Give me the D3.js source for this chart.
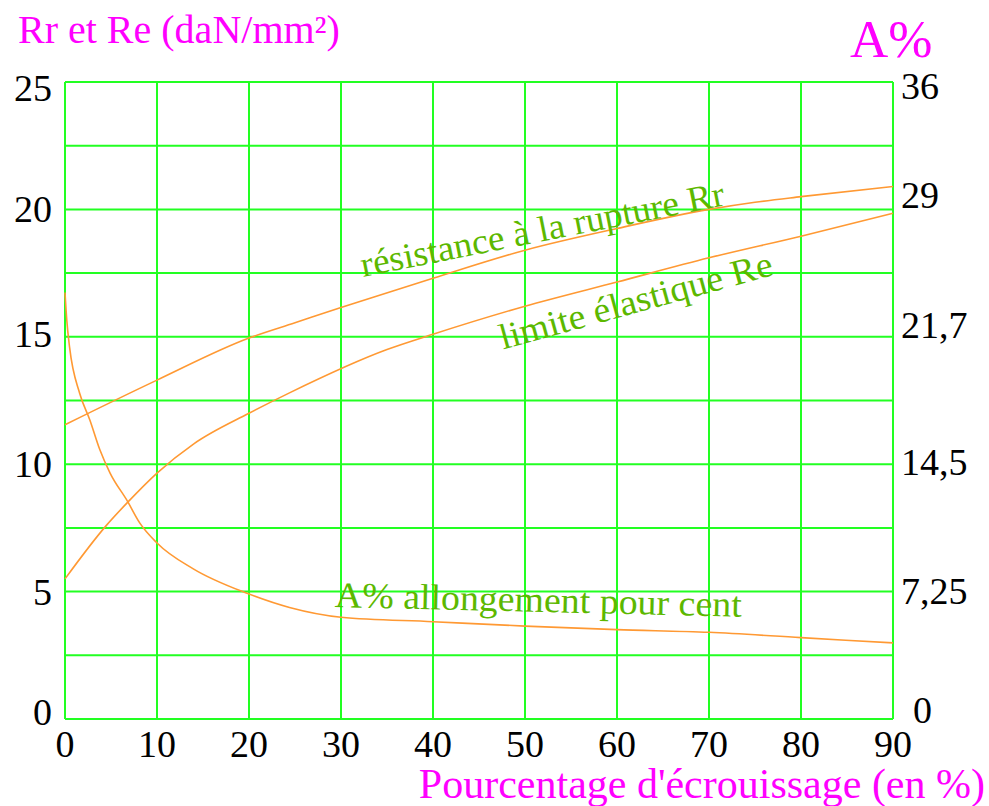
<!DOCTYPE html>
<head>
    <meta charset="utf-8">
    <style>
        body { margin: 0; background: #fff; }
        svg text { font-family: "Liberation Serif", "Times New Roman", serif; }
        line.grid { stroke: #22ff22; stroke-width: 2px; }
        path.curve { fill: none; stroke: #ff9933; stroke-width: 1.6px; }
        text.tick { font-size: 38px; fill: #000; }
        text.title { fill: #ff00ff; }
        text.note { fill: #5cb800; font-size: 36px; }
    </style>
</head>
<body>
    <script src="https://d3js.org/d3.v7.min.js"></script>
    <script>
        // écrouissage (%) -> valeurs
        var rr_x = [0, 10, 20, 25, 30, 40, 50, 60, 70, 75, 80, 90];
        var rr_y = [11.55, 13.3, 14.95, 15.55, 16.15, 17.3, 18.4, 19.25, 20.0, 20.28, 20.5, 20.9];

        var re_x = [0, 4.5, 6.8, 10, 14, 20, 24.4, 35, 40, 50, 60, 70, 80, 90];
        var re_y = [5.5, 7.6, 8.5, 9.65, 10.8, 12.0, 12.8, 14.5, 15.1, 16.2, 17.15, 18.1, 18.95, 19.85];

        // A% en unités de l'axe de droite (0 - 36)
        var a_x = [0, 0.2, 0.5, 1.6, 2.7, 3.8, 4.9, 6.8, 8.1, 10, 13.9, 19.8, 24.4, 30, 40, 50, 60, 70, 80, 90];
        var a_y = [24.1, 22.5, 21.0, 18.4, 16.9, 15.2, 13.9, 12.3, 11.1, 9.95, 8.5, 7.1, 6.3, 5.75, 5.5, 5.25, 5.05, 4.9, 4.6, 4.3];

        var x_ticks = [0, 10, 20, 30, 40, 50, 60, 70, 80, 90];
        var left_ticks = [0, 5, 10, 15, 20, 25];
        var right_ticks = [0, 7.25, 14.5, 21.7, 29, 36];
        var right_labels = ['0', '7,25', '14,5', '21,7', '29', '36'];

        var dim = {'w': 989, 'h': 806};
        var svg = d3.select('body')
                    .append('svg')
                    .attr('width', dim.w)
                    .attr('height', dim.h);

        var x_scale = d3.scaleLinear().domain([0, 90]).range([65, 893]);
        var y_scale = d3.scaleLinear().domain([0, 25]).range([719, 82]);
        var y2_scale = d3.scaleLinear().domain([0, 36]).range([719, 82]);

        // grille
        svg.selectAll('line.vgrid')
           .data(x_ticks)
           .enter()
           .append('line')
           .attr('class', 'grid')
           .attr('x1', d => x_scale(d)).attr('x2', d => x_scale(d))
           .attr('y1', y_scale(0)).attr('y2', y_scale(25));

        svg.selectAll('line.hgrid')
           .data(d3.range(0, 25.01, 2.5))
           .enter()
           .append('line')
           .attr('class', 'grid')
           .attr('x1', x_scale(0)).attr('x2', x_scale(90))
           .attr('y1', d => y_scale(d)).attr('y2', d => y_scale(d));

        // courbes
        function draw(xs, ys, ysc) {
            var line = d3.line()
                         .x(d => x_scale(d[0]))
                         .y(d => ysc(d[1]))
                         .curve(d3.curveMonotoneX);
            svg.append('path')
               .datum(d3.zip(xs, ys))
               .attr('class', 'curve')
               .attr('d', line);
        }
        draw(rr_x, rr_y, y_scale);
        draw(re_x, re_y, y_scale);
        draw(a_x, a_y, y2_scale);

        // graduations (petits décalages comme sur l'original)
        var left_nudge = {25: 19, 15: 10, 0: 6};
        var right_nudge = {36: 17, 29: 2, 21.7: 3, 0: 4};

        svg.selectAll('text.xt')
           .data(x_ticks)
           .enter()
           .append('text')
           .attr('class', 'tick')
           .attr('x', d => x_scale(d))
           .attr('y', 757)
           .attr('text-anchor', 'middle')
           .text(d => d);

        svg.selectAll('text.yl')
           .data(left_ticks)
           .enter()
           .append('text')
           .attr('class', 'tick')
           .attr('x', 52)
           .attr('y', d => y_scale(d) + (d in left_nudge ? left_nudge[d] : 13))
           .attr('text-anchor', 'end')
           .text(d => d);

        svg.selectAll('text.yr')
           .data(right_ticks)
           .enter()
           .append('text')
           .attr('class', 'tick')
           .attr('x', d => d === 0 ? 913 : 901)
           .attr('y', d => y2_scale(d) + (d in right_nudge ? right_nudge[d] : 13))
           .text((d, i) => right_labels[i]);

        // titres
        svg.append('text').attr('class', 'title')
           .attr('x', 18).attr('y', 43)
           .style('font-size', '40px')
           .text('Rr et Re (daN/mm²)');
        svg.append('text').attr('class', 'title')
           .attr('x', 850).attr('y', 57)
           .style('font-size', '53px')
           .text('A%');
        svg.append('text').attr('class', 'title')
           .attr('x', 985).attr('y', 798)
           .attr('text-anchor', 'end')
           .style('font-size', '42px')
           .text("Pourcentage d'écrouissage (en %)");

        // étiquettes des courbes
        function note(txt, xv, yv, ang, len) {
            svg.append('text')
               .attr('class', 'note')
               .attr('transform', 'translate(' + x_scale(xv) + ',' + y_scale(yv) + ') rotate(' + ang + ')')
               .attr('textLength', len)
               .attr('lengthAdjust', 'spacingAndGlyphs')
               .text(txt);
        }
        note('résistance à la rupture Rr', 32.4, 17.35, -11.2, 370);
        note('limite élastique Re', 47.6, 14.5, -15.4, 282);
        note('A% allongement pour cent', 29.3, 4.4, 1.4, 407);
    </script>
</body>
